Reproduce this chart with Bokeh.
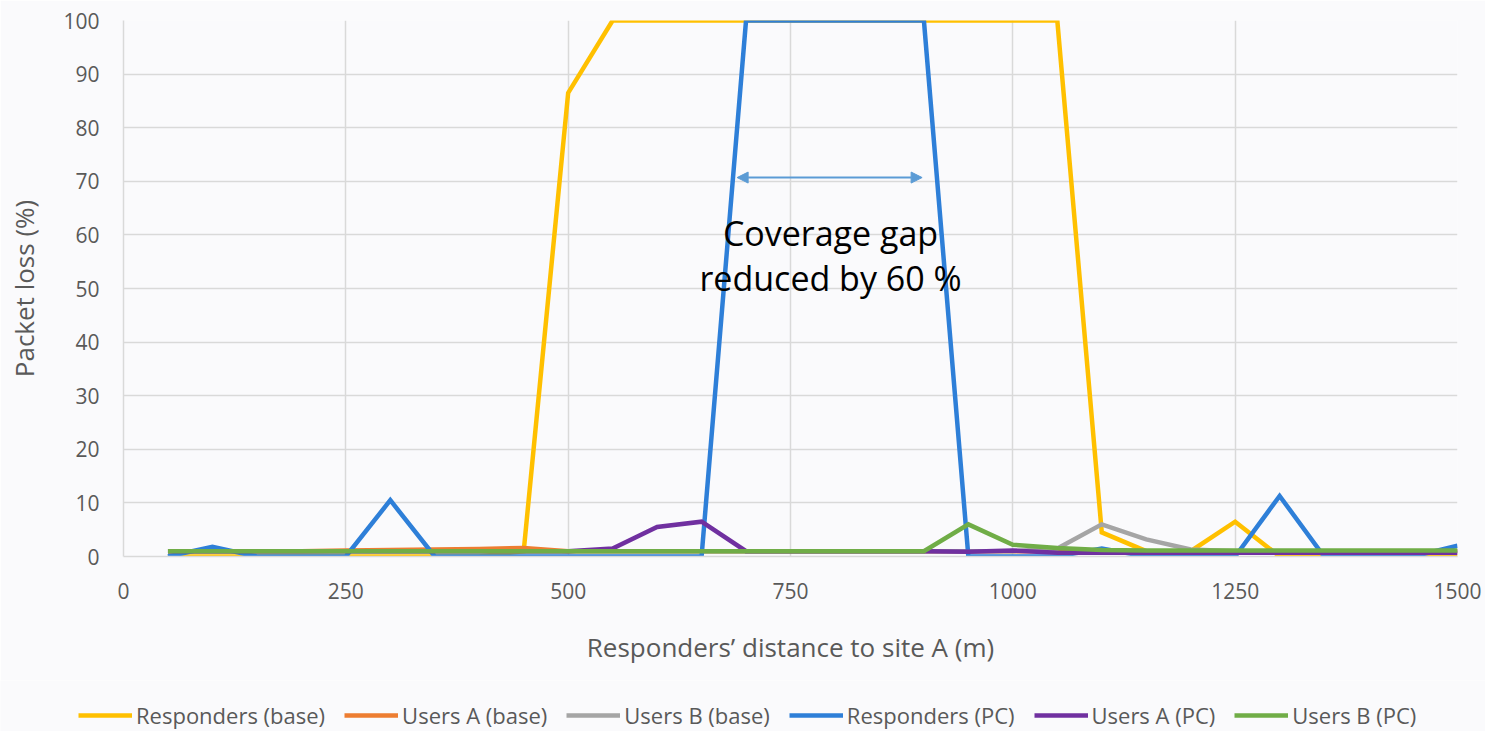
from bokeh.plotting import figure
from bokeh.models import Range1d, Legend, LegendItem, Arrow, NormalHead, Label, FixedTicker
from bokeh.embed import file_html
from bokeh.resources import INLINE

distance = [50, 100, 150, 200, 250, 300, 350, 400, 450, 500,
            550, 600, 650, 700, 750, 800, 850, 900, 950, 1000,
            1050, 1100, 1150, 1200, 1250, 1300, 1350, 1400, 1450, 1500]

responders_base = [0, 0, 0, 0, 0, 0, 0, 0, 1, 86.5,
                   100, 100, 100, 100, 100, 100, 100, 100, 100, 100,
                   100, 4.5, 1, 1, 6.5, 0, 0, 0, 0, 0]
users_a_base = [1, 1, 1, 1, 1.1, 1.2, 1.3, 1.4, 1.6, 1.0,
                1, 1, 1, 1, 1, 1, 1, 1, 1, 1,
                1, 1, 1, 1, 1, 1, 1, 1, 1, 1]
users_b_base = [1, 1, 1, 1, 1, 1, 1, 1, 1, 1,
                1, 1, 1, 1, 1, 1, 1, 1, 1, 1,
                1.5, 6, 3.2, 1.3, 1, 1, 1, 1, 1, 1]
responders_pc = [0, 1.8, 0, 0, 0, 10.5, 0, 0, 0, 0,
                 0, 0, 0, 100, 100, 100, 100, 100, 0, 0,
                 0, 1.5, 0, 0, 0, 11.3, 0, 0, 0, 2]
users_a_pc = [1, 1, 1, 1, 1, 1, 1, 1, 1, 1,
              1.5, 5.5, 6.5, 1, 1, 1, 1, 1, 0.9, 1.1,
              0.7, 0.7, 0.7, 0.7, 0.7, 0.7, 0.7, 0.7, 0.7, 0.7]
users_b_pc = [1, 1, 1, 1, 1, 1, 1, 1, 1, 1,
              1, 1, 1, 1, 1, 1, 1, 1, 6, 2.2,
              1.6, 1.2, 1.1, 1.1, 1.1, 1.1, 1.1, 1.1, 1.1, 1.1]

series_names = ["Responders (base)", "Users A (base)", "Users B (base)",
                "Responders (PC)", "Users A (PC)", "Users B (PC)"]
series_values = [responders_base, users_a_base, users_b_base,
                 responders_pc, users_a_pc, users_b_pc]
series_colors = ["#FFC000", "#ED7D31", "#A5A5A5", "#2E7FD8", "#7030A0", "#70AD47"]

x_ticks = [0, 250, 500, 750, 1000, 1250, 1500]
y_ticks = [0, 10, 20, 30, 40, 50, 60, 70, 80, 90, 100]

BG = "#fafafc"
FONT = "Open Sans"
TXT = "#595959"

p = figure(width=1485, height=680, output_backend="svg",
           toolbar_location=None, x_range=Range1d(0, 1500), y_range=Range1d(0, 100),
           min_border_left=123, min_border_top=20, min_border_right=28, min_border_bottom=124)
p.background_fill_color = BG
p.border_fill_color = BG
p.outline_line_color = None

for ax in (p.xaxis[0], p.yaxis[0]):
    ax.axis_line_color = "#d9d9d9"
    ax.axis_line_width = 1.5
    ax.major_tick_line_color = None
    ax.minor_tick_line_color = None
    ax.major_tick_out = 0
    ax.major_tick_in = 0
    ax.major_label_text_font = FONT
    ax.major_label_text_font_size = "21px"
    ax.major_label_text_color = TXT
    ax.axis_label_text_font = FONT
    ax.axis_label_text_font_size = "26px"
    ax.axis_label_text_font_style = "normal"
    ax.axis_label_text_color = TXT

p.xaxis.ticker = FixedTicker(ticks=x_ticks)
p.yaxis.ticker = FixedTicker(ticks=y_ticks)
p.xaxis.major_label_standoff = 26
p.yaxis.major_label_standoff = 24
p.xaxis.axis_label = "Responders\u2019 distance to site A (m)"
p.yaxis.axis_label = "Packet loss (%)"
p.xaxis.axis_label_standoff = 27
p.yaxis.axis_label_standoff = 18

p.xgrid.ticker = FixedTicker(ticks=x_ticks)
p.ygrid.ticker = FixedTicker(ticks=y_ticks)
p.grid.grid_line_color = "#d9d9d9"
p.grid.grid_line_width = 1.5

for name, vals, col in zip(series_names, series_values, series_colors):
    p.line(distance, vals, line_color=col, line_width=4.5, line_join="miter")

arrow = Arrow(start=NormalHead(size=11, fill_color="#5B9BD5", line_color="#5B9BD5"),
              end=NormalHead(size=11, fill_color="#5B9BD5", line_color="#5B9BD5"),
              x_start=690, y_start=70.7, x_end=898, y_end=70.7,
              line_color="#5B9BD5", line_width=2)
p.add_layout(arrow)

p.add_layout(Label(x=795, y=60.3, text="Coverage gap", text_align="center", text_baseline="middle",
                   text_font=FONT, text_font_size="34px", text_color="black"))
p.add_layout(Label(x=795, y=52, text="reduced by 60 %", text_align="center", text_baseline="middle",
                   text_font=FONT, text_font_size="34px", text_color="black"))

# legend strip below the chart (its frame spans the full width)
p2 = figure(width=1485, height=51, output_backend="svg", toolbar_location=None,
            x_axis_location=None, y_axis_location=None,
            x_range=Range1d(0, 1500), y_range=Range1d(1000, 1100),
            min_border_left=0, min_border_right=0, min_border_top=0, min_border_bottom=0)
p2.background_fill_color = BG
p2.border_fill_color = BG
p2.outline_line_color = None
p2.grid.visible = False

items = []
for name, vals, col in zip(series_names, series_values, series_colors):
    r = p2.line(distance, vals, line_color=col, line_width=4.5)
    items.append(LegendItem(label=name, renderers=[r]))

legend = Legend(items=items, orientation="horizontal", location=(78, 1),
                label_text_font=FONT, label_text_font_size="22px",
                label_text_color=TXT, label_height=24,
                glyph_width=54, glyph_height=24, label_standoff=4, spacing=19, padding=1, margin=0,
                background_fill_alpha=0, border_line_color=None)
p2.add_layout(legend, "center")

open("out.html", "w").write(file_html([p, p2], INLINE))
